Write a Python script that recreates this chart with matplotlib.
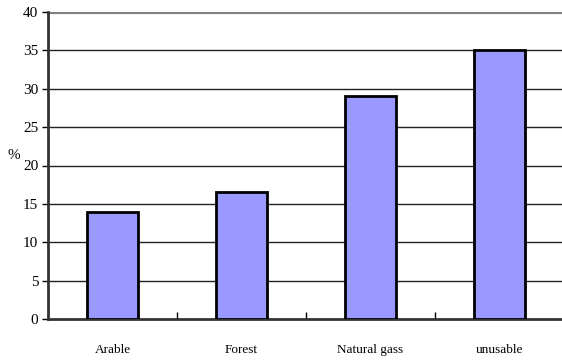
import matplotlib.pyplot as plt
import numpy as np

categories = ["Arable", "Forest", "Natural gass", "unusable"]
shares = [14, 16.5, 29, 35]
yticks = [0, 5, 10, 15, 20, 25, 30, 35, 40]

plt.rcParams["font.family"] = ["Liberation Serif", "DejaVu Serif"]

fig = plt.figure(figsize=(5.62, 3.63), dpi=100)
ax = fig.add_axes([48 / 562, 44 / 363, 516 / 562, 307 / 363])

x = np.arange(len(categories))
ax.bar(x, shares, width=0.4, color="#9999FF", edgecolor="black",
       linewidth=2, zorder=3)

# horizontal grid, top line drawn as a heavier grey border
for v in yticks[1:-1]:
    ax.axhline(v, color="#222222", lw=1, zorder=1)
ax.axhline(40, color="#808080", lw=3, zorder=1)

ax.set_xlim(-0.5, len(categories) - 0.5)
ax.set_ylim(0, 40)
ax.set_yticks(yticks)
ax.set_yticklabels([str(v) for v in yticks], fontsize=11)
ax.set_xticks(x)
ax.set_xticklabels(categories, fontsize=9.5)
ax.tick_params(axis="x", length=0, pad=18)
ax.tick_params(axis="y", direction="out", length=4, width=1, pad=3)

# small separators between categories on the baseline
ax.set_xticks(x[:-1] + 0.5, minor=True)
ax.tick_params(axis="x", which="minor", direction="in", length=5, width=1)

for side in ("top", "right"):
    ax.spines[side].set_visible(False)
ax.spines["left"].set_linewidth(2)
ax.spines["left"].set_color("#333333")
ax.spines["bottom"].set_linewidth(2)
ax.spines["bottom"].set_color("#333333")

ax.set_ylabel("%", rotation=0, fontsize=11, va="center", ha="center")
ax.yaxis.set_label_coords(-0.066, 0.531)

fig.savefig("out.png", dpi=100)
